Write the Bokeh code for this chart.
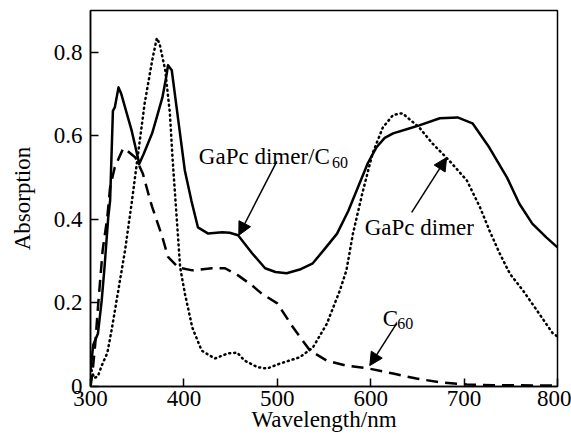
from bokeh.plotting import figure
from bokeh.models import FixedTicker, Label, Arrow, NormalHead, Range1d
from bokeh.embed import file_html
from bokeh.resources import INLINE

# GaPc dimer/C60 (solid)
wl_mix = [300, 303, 308, 312, 315, 319, 321, 324, 326, 330, 333, 337, 344, 351, 352, 357, 366, 371, 377, 381, 383, 387, 394, 401, 408, 415, 426, 441, 449, 458, 473, 487, 498, 510, 524, 538, 551, 564, 576, 588, 597, 606, 615, 624, 642, 652, 674, 693, 709, 727, 746, 759, 773, 788, 800]
ab_mix = [0.04, 0.10, 0.127, 0.206, 0.285, 0.405, 0.445, 0.66, 0.668, 0.716, 0.70, 0.668, 0.613, 0.545, 0.532, 0.557, 0.606, 0.645, 0.692, 0.74, 0.769, 0.757, 0.637, 0.517, 0.445, 0.381, 0.366, 0.369, 0.368, 0.362, 0.319, 0.283, 0.274, 0.271, 0.28, 0.295, 0.33, 0.366, 0.42, 0.486, 0.535, 0.572, 0.595, 0.606, 0.618, 0.625, 0.642, 0.644, 0.630, 0.572, 0.50, 0.438, 0.39, 0.357, 0.333]

# C60 (dashed)
wl_c60 = [300, 302, 305, 308, 313, 318, 321, 326, 335, 339, 348, 356, 364, 366, 377, 383, 394, 409, 430, 444, 458, 473, 483, 500, 517, 535, 553, 574, 598, 624, 649, 674, 703, 731, 760, 800]
ab_c60 = [0.0, 0.03, 0.10, 0.19, 0.326, 0.405, 0.477, 0.525, 0.57, 0.565, 0.548, 0.51, 0.445, 0.43, 0.357, 0.31, 0.285, 0.278, 0.283, 0.283, 0.266, 0.242, 0.223, 0.199, 0.141, 0.086, 0.062, 0.05, 0.043, 0.031, 0.019, 0.01, 0.005, 0.003, 0.003, 0.002]

# GaPc dimer (dotted)
wl_dim = [301, 304, 308, 312, 318, 323, 329, 337, 344, 351, 358, 366, 371, 374, 380, 385, 388, 391, 396, 401, 409, 419, 433, 447, 457, 465, 479, 489, 503, 524, 538, 553, 567, 574, 581, 591, 602, 613, 624, 634, 652, 666, 684, 703, 717, 727, 738, 749, 763, 778, 795, 800]
ab_dim = [0.04, 0.02, 0.025, 0.05, 0.08, 0.14, 0.22, 0.326, 0.438, 0.558, 0.678, 0.78, 0.834, 0.82, 0.757, 0.654, 0.541, 0.445, 0.285, 0.223, 0.141, 0.086, 0.067, 0.079, 0.081, 0.062, 0.046, 0.043, 0.055, 0.07, 0.093, 0.15, 0.23, 0.278, 0.366, 0.462, 0.558, 0.62, 0.65, 0.654, 0.62, 0.582, 0.541, 0.493, 0.429, 0.374, 0.319, 0.27, 0.23, 0.182, 0.127, 0.12]

x_ticks = [300, 400, 500, 600, 700, 800]
y_ticks = [0, 0.2, 0.4, 0.6, 0.8]
x_title = "Wavelength/nm"
y_title = "Absorption"

FONT = "Liberation Serif"

p = figure(width=571, height=439, output_backend="svg", toolbar_location=None,
           x_range=Range1d(300, 800), y_range=Range1d(0, 0.9),
           min_border_left=90, min_border_right=14, min_border_top=10, min_border_bottom=53)
p.grid.visible = False
p.background_fill_color = "white"
p.border_fill_color = "white"
p.outline_line_color = "black"
p.outline_line_width = 1.5
p.outline_line_alpha = 1

for ax in (p.xaxis[0], p.yaxis[0]):
    ax.axis_line_color = "black"
    ax.axis_line_width = 1.5
    ax.major_tick_in = 8
    ax.major_tick_out = 0
    ax.major_tick_line_width = 1.5
    ax.minor_tick_line_color = None
    ax.major_label_text_font = FONT
    ax.major_label_text_font_size = "23px"
    ax.major_label_text_color = "black"
    ax.axis_label_text_font = FONT
    ax.axis_label_text_font_size = "23px"
    ax.axis_label_text_font_style = "normal"
    ax.axis_label_text_color = "black"

p.xaxis.ticker = FixedTicker(ticks=x_ticks)
p.yaxis.ticker = FixedTicker(ticks=y_ticks)
p.yaxis.major_label_overrides = {0: "0"}
p.xaxis.axis_label = x_title
p.yaxis.axis_label = y_title
p.xaxis.major_label_standoff = 4
p.xaxis.axis_label_standoff = -2
p.yaxis.major_label_standoff = 8
p.yaxis.axis_label_standoff = 16

p.line(wl_mix, ab_mix, line_color="black", line_width=2.5, line_join="round")
p.line(wl_c60, ab_c60, line_color="black", line_width=2.5, line_dash="12 7")
p.line(wl_dim, ab_dim, line_color="black", line_width=2.5, line_dash="1 4", line_cap="round")

def lab(x, y, t, size="23px", align="left"):
    p.add_layout(Label(x=x, y=y, text=t, text_font=FONT, text_font_size=size,
                       text_color="black", text_baseline="alphabetic", text_align=align))

lab(416, 0.551, "GaPc dimer/C")
lab(558.5, 0.537, "60", "16px")
lab(593.6, 0.381, "GaPc dimer")
lab(612.8, 0.163, "C")
lab(628.5, 0.151, "60", "16px")

def arr(x0, y0, x1, y1):
    p.add_layout(Arrow(x_start=x0, y_start=y0, x_end=x1, y_end=y1, line_width=1.5, line_color="black",
                       end=NormalHead(size=13, fill_color="black", line_color="black")))

arr(499.5, 0.539, 458.8, 0.362)
arr(643.9, 0.417, 681.3, 0.548)
arr(627.8, 0.151, 599.0, 0.050)

open("out.html", "w").write(file_html(p, INLINE))
